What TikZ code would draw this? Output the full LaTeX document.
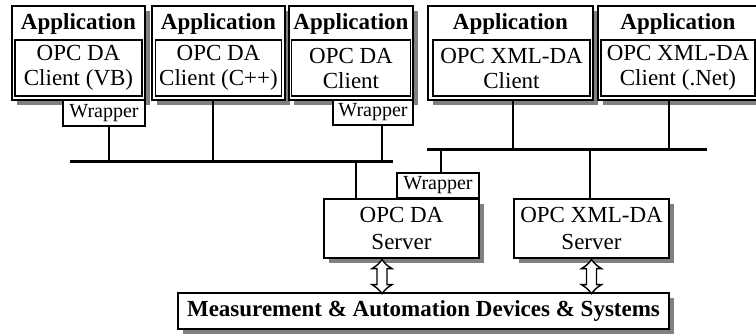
\documentclass[tikz,border=0pt]{standalone}
\usepackage{fontspec}
\setmainfont{Liberation Serif}
\usetikzlibrary{shadows}

\begin{document}
\begin{tikzpicture}[x=1pt,y=-1pt,
  every node/.style={font=\fontsize{23}{25}\selectfont, align=center, inner sep=0pt},
  shadowed/.style={drop shadow={shadow xshift=5pt, shadow yshift=-5pt, fill=black!50, opacity=1}},
  appbox/.style={draw, line width=1.3pt, fill=white, shadowed},
  inbox/.style={draw, line width=1.1pt, fill=white},
  wrapbox/.style={draw, line width=1.1pt, fill=white, font=\fontsize{20}{22}\selectfont},
  srvbox/.style={draw, line width=1.3pt, fill=white, shadowed, font=\fontsize{23}{27}\selectfont},
  applabel/.style={font=\fontsize{23}{25}\selectfont\bfseries, anchor=base},
  bus/.style={line width=3pt},
  wire/.style={line width=2.6pt},
  hollowarrow/.style={draw, fill=white, line width=1.4pt, line join=miter}
]
\useasboundingbox (0,0) rectangle (756,334);

% client applications
\node[appbox, minimum width=133, minimum height=94] (a1) at (78.5,53) {};
\node[applabel] (a1t) at (78.5,30) {Application};
\node[inbox, minimum width=127, minimum height=56] (a1c) at (78.5,68) {OPC DA\\Client (VB)};

\node[appbox, minimum width=133, minimum height=94] (a2) at (218.5,53) {};
\node[applabel] (a2t) at (218.5,30) {Application};
\node[inbox, minimum width=126, minimum height=56] (a2c) at (218.5,68) {OPC DA\\Client (C++)};

\node[appbox, minimum width=124, minimum height=94] (a3) at (351,53) {};
\node[applabel] (a3t) at (351,30) {Application};
\node[inbox, minimum width=119, minimum height=56] (a3c) at (351,68) {OPC DA\\Client};

\node[appbox, minimum width=165, minimum height=94] (a4) at (510.5,53) {};
\node[applabel] (a4t) at (510.5,30) {Application};
\node[inbox, minimum width=157, minimum height=56] (a4c) at (511.5,68) {OPC XML-DA\\Client};

\node[appbox, minimum width=160, minimum height=94] (a5) at (678,53) {};
\node[applabel] (a5t) at (678,30) {Application};
\node[inbox, minimum width=154, minimum height=56] (a5c) at (678,68) {OPC XML-DA\\Client (.Net)};

% client-side wrappers
\node[wrapbox, minimum width=82, minimum height=26] (w1) at (104,113) {Wrapper};
\node[wrapbox, minimum width=80, minimum height=25] (w3) at (373,112.5) {Wrapper};

% servers
\node[srvbox, minimum width=155, minimum height=59] (sda) at (401.5,228.5) {OPC DA\\Server};
\node[wrapbox, minimum width=82, minimum height=25] (ws) at (438,185.5) {Wrapper};
\node[srvbox, minimum width=155, minimum height=59] (sxml) at (591.5,228.5) {OPC XML-DA\\Server};

% devices
\node[appbox, minimum width=491, minimum height=36,
      font=\fontsize{23}{25}\selectfont\bfseries] (meas) at (423.5,311)
      {Measurement \& Automation Devices \& Systems};

% buses and their taps
\coordinate (b1l) at (70,162);
\coordinate (b1r) at (393,162);
\coordinate (b2l) at (427,150);
\coordinate (b2r) at (707,150);
\coordinate (j1) at (109,162);
\coordinate (j2) at (213,162);
\coordinate (j3) at (382,162);
\coordinate (j4) at (356,162);
\coordinate (k1) at (513,150);
\coordinate (k2) at (669,150);
\coordinate (k3) at (441,150);
\coordinate (k4) at (590,150);

\draw[bus] (b1l) -- (b1r);
\draw[bus] (b2l) -- (b2r);

\draw[wire] (w1.south -| j1) -- (j1);
\draw[wire] (a2.south -| j2) -- (j2);
\draw[wire] (w3.south -| j3) -- (j3);
\draw[wire] (j4) -- (sda.north -| j4);
\draw[wire] (a4.south -| k1) -- (k1);
\draw[wire] (a5.south -| k2) -- (k2);
\draw[wire] (k3) -- (ws.north -| k3);
\draw[wire] (k4) -- (sxml.north -| k4);

% hollow two-way arrows from the servers down to the devices
\coordinate (d1) at ([xshift=-19.5pt]sda.south);
\coordinate (d2) at (sxml.south);
\foreach \d in {d1,d2}{
  \draw[hollowarrow] ([yshift=-1pt]\d)
    .. controls +(4,5) .. ++(10,9) -- ++(-5,0) -- ++(0,16)
    -- ++(5,0) .. controls +(-6,4) .. ++(-10,9)
    .. controls +(-4,-5) .. ++(-10,-9) -- ++(5,0) -- ++(0,-16)
    -- ++(-5,0) .. controls +(6,-4) .. cycle;
}
\end{tikzpicture}
\end{document}
